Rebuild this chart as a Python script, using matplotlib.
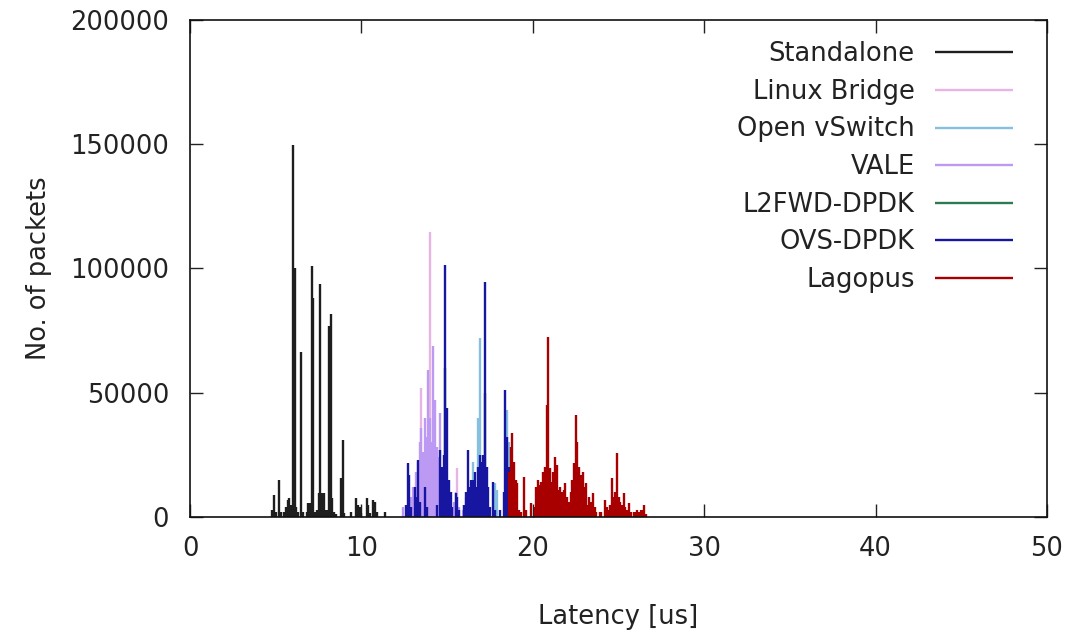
import matplotlib
matplotlib.use("Agg")
import matplotlib.pyplot as plt
import numpy as np

# Latency histograms (0.1 us bins): bin latency [us] and packet count per bin
standalone_lat = [4.8, 4.9, 5.0, 5.2, 5.3, 5.5, 5.6, 5.7, 5.8, 5.9, 6.0, 6.1, 6.2, 6.3,
                  6.5, 6.6, 6.8, 6.9, 7.0, 7.1, 7.2, 7.3, 7.4, 7.5, 7.6, 7.7, 7.8, 7.9,
                  8.0, 8.1, 8.2, 8.3, 8.4, 8.5, 8.8, 8.9, 9.0, 9.4, 9.7, 9.8, 9.9, 10.0,
                  10.3, 10.4, 10.5, 10.7, 10.8, 10.9, 11.4]
standalone_cnt = [3000, 8900, 2000, 15000, 2000, 2000, 4000, 7000, 7500, 5000, 149700, 100000, 4000, 2000,
                  66500, 2000, 2000, 5600, 5600, 101000, 88000, 2000, 3000, 9600, 93800, 9600, 9600, 3000,
                  3000, 77000, 81700, 7600, 2000, 1000, 15700, 31000, 1500, 2000, 7600, 5000, 4000, 1500,
                  7600, 5000, 1500, 7000, 6000, 2000, 2000]

linux_bridge_lat = [13.5, 14.0, 15.6]
linux_bridge_cnt = [52000, 114800, 19700]

open_vswitch_lat = [16.5, 16.8, 16.9, 17.8, 17.9, 18.5, 18.6]
open_vswitch_cnt = [22000, 40000, 72000, 13600, 11000, 43000, 30000]

vale_lat = [12.4, 12.9, 13.0, 13.1, 13.2, 13.3, 13.4, 13.5, 13.6, 13.7, 13.8, 13.9, 14.0,
            14.1, 14.2, 14.3, 14.4, 14.5, 14.6, 14.7, 14.8, 14.9, 15.0, 15.2, 15.4, 15.5,
            15.7, 15.9, 16.0, 16.1]
vale_cnt = [4000, 8000, 12000, 10000, 18000, 22000, 30000, 36000, 26000, 40000, 32000, 59000, 40000,
            30000, 69000, 47000, 28000, 24000, 42000, 15000, 10000, 8000, 5000, 4000, 6000, 10000,
            4000, 3000, 5000, 8000]

l2fwd_lat = [14.9, 17.2]
l2fwd_cnt = [60000, 50000]

ovs_dpdk_lat = [12.6, 12.7, 12.8, 12.9, 13.1, 13.2, 13.3, 13.4, 13.7, 13.8, 14.4, 14.6, 14.7,
                14.8, 14.9, 15.0, 15.1, 15.2, 15.3, 15.5, 15.6, 15.7, 16.0, 16.1, 16.2, 16.3,
                16.4, 16.5, 16.6, 16.7, 16.8, 16.9, 17.0, 17.1, 17.2, 17.3, 17.4, 17.5, 17.7,
                17.8, 18.1, 18.3, 18.4, 18.5, 18.6]
ovs_dpdk_cnt = [5000, 21700, 17000, 4000, 12000, 8000, 23000, 6000, 12000, 4000, 5000, 27000, 20000,
                25000, 101400, 44000, 15000, 10000, 4000, 9600, 8000, 3000, 5000, 10000, 27000, 12000,
                15000, 15000, 18000, 12000, 20000, 25000, 22000, 25000, 94500, 20000, 12000, 4000, 14000,
                3000, 3000, 10000, 51000, 32000, 20000]

lagopus_lat = [18.6, 18.7, 18.8, 18.9, 19.0, 19.1, 19.2, 19.3, 19.5, 19.6, 19.9, 20.1, 20.2,
               20.3, 20.4, 20.5, 20.6, 20.7, 20.8, 20.9, 21.0, 21.1, 21.2, 21.3, 21.4, 21.5,
               21.6, 21.7, 21.8, 21.9, 22.0, 22.1, 22.2, 22.3, 22.4, 22.5, 22.6, 22.7, 22.8,
               22.9, 23.0, 23.1, 23.2, 23.3, 23.4, 23.5, 23.6, 23.7, 23.9, 24.0, 24.2, 24.3,
               24.4, 24.5, 24.6, 24.7, 24.8, 24.9, 25.0, 25.1, 25.2, 25.3, 25.4, 25.5, 25.6,
               25.7, 25.9, 26.0, 26.1, 26.2, 26.3, 26.4, 26.5, 26.6]
lagopus_cnt = [18000, 28000, 33700, 22000, 15000, 13600, 3000, 2000, 16000, 3000, 5800, 4000, 12000,
               15000, 13000, 14000, 18000, 20000, 45000, 72600, 19700, 14000, 18000, 24000, 21000, 11000,
               12000, 10000, 11000, 13800, 8000, 6000, 10000, 15000, 21700, 41000, 30000, 20000, 17000,
               18000, 12000, 13600, 5000, 8000, 6000, 9600, 4000, 2000, 2000, 2000, 7000, 4000,
               3000, 5000, 15600, 8000, 10000, 25700, 8000, 6000, 5000, 9600, 4000, 3000, 5600,
               2000, 2000, 2000, 2800, 2000, 3000, 3000, 4800, 1000]

series = [
    ("Standalone", standalone_lat, standalone_cnt, "#1e1e1e"),
    ("Linux Bridge", linux_bridge_lat, linux_bridge_cnt, "#e8b4e4"),
    ("Open vSwitch", open_vswitch_lat, open_vswitch_cnt, "#86c0e0"),
    ("VALE", vale_lat, vale_cnt, "#bc9af4"),
    ("L2FWD-DPDK", l2fwd_lat, l2fwd_cnt, "#2e7a52"),
    ("OVS-DPDK", ovs_dpdk_lat, ovs_dpdk_cnt, "#1616a0"),
    ("Lagopus", lagopus_lat, lagopus_cnt, "#a80000"),
]

FS = 18.5
TXT = "#222222"

plt.rcParams["font.family"] = ["DejaVu Sans"]
fig = plt.figure(figsize=(10.87, 6.33), dpi=100)
ax = fig.add_axes([0.1748, 0.1833, 0.7884, 0.7851])

for name, lat, cnt, color in series:
    ax.vlines(lat, 0, cnt, colors=color, linewidth=1.7, label=name)

ax.set_xlim(0, 50)
ax.set_ylim(0, 200000)
ax.set_xticks([0, 10, 20, 30, 40, 50])
ax.set_yticks([0, 50000, 100000, 150000, 200000])
ax.tick_params(direction="in", length=9.4, width=1.0, top=True, right=True,
               labelsize=FS, colors=TXT)
ax.tick_params(axis="y", pad=15)
ax.tick_params(axis="x", pad=14)
for s in ax.spines.values():
    s.set_linewidth(1.2)
    s.set_color("#111111")

ax.set_xlabel("Latency [us]", fontsize=FS, color=TXT, labelpad=30)
ax.set_ylabel("No. of packets", fontsize=FS, color=TXT, labelpad=13)

leg = ax.legend(loc="upper right", bbox_to_anchor=(0.9603, 0.957), frameon=False,
                fontsize=FS, markerfirst=False, handlelength=3.05, handletextpad=0.78,
                labelspacing=0.45, borderpad=0, borderaxespad=0)
for txt in leg.get_texts():
    txt.set_color(TXT)

fig.savefig("out.png", dpi=100)
